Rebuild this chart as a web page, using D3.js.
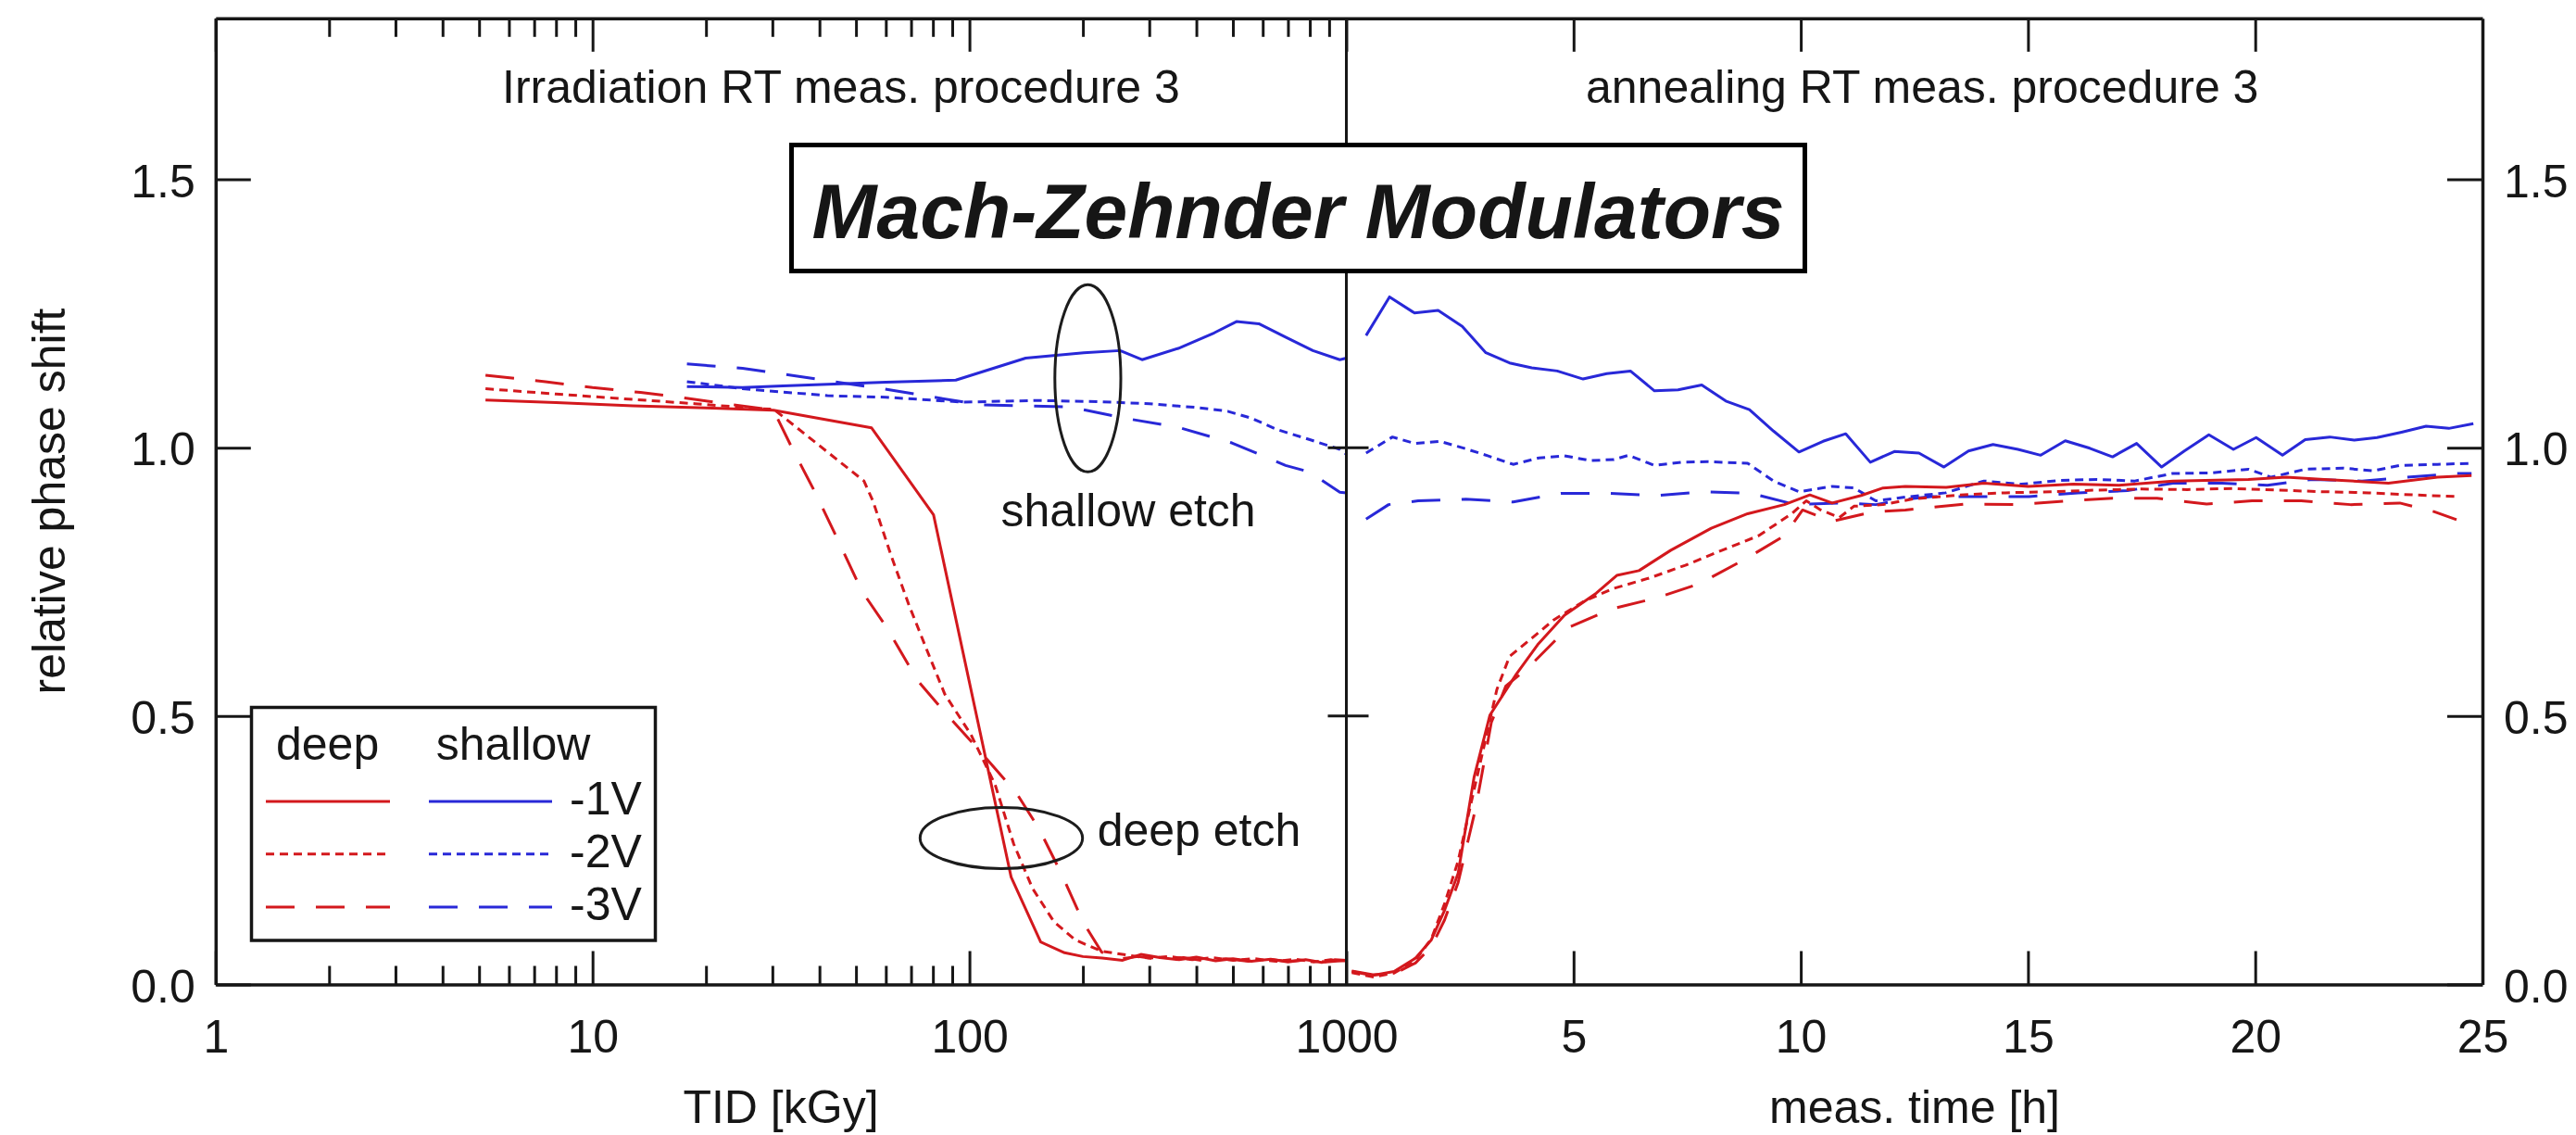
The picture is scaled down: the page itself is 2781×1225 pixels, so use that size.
<!DOCTYPE html>
<html><head><meta charset="utf-8">
<script src="https://cdn.jsdelivr.net/npm/d3@7"></script>
<style>
html,body{margin:0;padding:0;background:#fff;}
svg{display:block;}
text{font-family:'Liberation Sans',Arial,Helvetica,sans-serif;fill:#161616;}
</style></head><body>
<svg id="chart" width="2781" height="1225"></svg>
<script>
// ---------- DATA ----------
// Irradiation panel: [TID kGy, relative phase shift]
const irrDeep1V = [[5.2,1.089],[8,1.084],[12.8,1.078],[20,1.074],[30.2,1.070],[55,1.037],[80.3,0.875],[129,0.200],[154.5,0.079],[178.8,0.059],[200,0.052],[225,0.049],[255,0.045],[285,0.056],[320,0.050],[360,0.046],[400,0.051],[450,0.044],[500,0.048],[560,0.043],[630,0.047],[700,0.042],[780,0.046],[860,0.041],[930,0.046],[1000,0.045]];
const irrDeep2V = [[5.2,1.110],[8,1.100],[12.8,1.090],[18.7,1.082],[27.3,1.073],[30.2,1.072],[52.5,0.938],[55.5,0.900],[61.9,0.800],[69,0.708],[77,0.624],[86,0.541],[101,0.465],[117,0.372],[131,0.262],[147,0.179],[167.5,0.117],[190.8,0.083],[224,0.062],[260,0.055],[300,0.049],[340,0.052],[390,0.046],[440,0.050],[500,0.045],[570,0.048],[650,0.043],[730,0.047],[820,0.042],[910,0.046],[1000,0.044]];
const irrDeep3V = [[5.2,1.135],[7.5,1.123],[10,1.112],[13.4,1.103],[17.9,1.092],[23.7,1.080],[30.2,1.070],[33.8,1.000],[39,0.916],[44.1,0.838],[51.8,0.733],[60.2,0.666],[72.9,0.566],[86,0.507],[105,0.440],[133.4,0.356],[153,0.290],[175.5,0.206],[201,0.114],[224.4,0.060],[247,0.047],[280,0.052],[320,0.047],[370,0.050],[420,0.044],[480,0.048],[550,0.043],[620,0.047],[700,0.043],[790,0.046],[880,0.042],[1000,0.045]];
const irrShallow1V = [[17.8,1.114],[25,1.112],[32,1.115],[42.1,1.118],[60,1.122],[92,1.126],[141,1.167],[201,1.177],[251,1.181],[287,1.164],[358,1.185],[446,1.214],[511,1.235],[586,1.231],[690,1.206],[815,1.181],[961,1.164],[1000,1.167]];
const irrShallow2V = [[17.8,1.123],[25,1.110],[42,1.097],[60,1.094],[96,1.085],[150,1.088],[218,1.086],[300,1.082],[400,1.075],[484,1.068],[560,1.055],[654,1.034],[800,1.015],[961,0.997],[1000,0.988]];
const irrShallow3V = [[17.8,1.156],[25,1.148],[33.6,1.135],[58.6,1.110],[107,1.080],[185,1.076],[258,1.055],[358,1.038],[497,1.009],[690,0.967],[797,0.955],[961,0.917],[1000,0.916]];

// Annealing panel: [meas. time h, relative phase shift]
const annDeep1V = [[0.12,0.024],[0.58,0.017],[1.05,0.024],[1.52,0.049],[1.87,0.083],[2.16,0.138],[2.46,0.207],[2.81,0.386],[3.16,0.502],[3.74,0.578],[4.21,0.633],[4.80,0.688],[5.50,0.729],[5.95,0.762],[6.44,0.771],[7.14,0.809],[8.03,0.850],[8.83,0.877],[9.64,0.894],[10.20,0.912],[10.69,0.897],[11.33,0.911],[11.81,0.925],[12.3,0.928],[13.2,0.926],[14.03,0.934],[15,0.928],[16,0.932],[17,0.930],[18.19,0.938],[19.85,0.941],[20.68,0.945],[21.52,0.941],[22.93,0.934],[24.01,0.945],[24.76,0.948]];
const annDeep2V = [[0.12,0.022],[0.58,0.014],[1.05,0.021],[1.52,0.045],[1.87,0.085],[2.16,0.150],[2.46,0.230],[2.75,0.340],[3.11,0.474],[3.31,0.549],[3.59,0.611],[4.08,0.645],[4.56,0.679],[5.21,0.713],[5.85,0.737],[6.66,0.757],[7.46,0.781],[8.27,0.809],[9.07,0.836],[9.80,0.877],[10.12,0.901],[10.44,0.884],[10.85,0.870],[11.17,0.891],[11.81,0.894],[12.5,0.905],[13.5,0.912],[14.5,0.916],[15.5,0.918],[16.5,0.921],[17.5,0.923],[18.5,0.922],[19.5,0.924],[20.5,0.921],[21.5,0.918],[22.5,0.916],[23.5,0.912],[24.5,0.909]];
const annDeep3V = [[0.12,0.025],[0.58,0.018],[1.05,0.020],[1.52,0.040],[1.87,0.070],[2.16,0.120],[2.46,0.190],[2.85,0.330],[3.19,0.488],[3.51,0.556],[4.00,0.590],[4.88,0.665],[5.85,0.700],[6.82,0.720],[7.78,0.747],[8.83,0.795],[9.64,0.836],[10.04,0.884],[10.69,0.863],[11.57,0.880],[12.3,0.884],[13.61,0.895],[14.78,0.894],[15.88,0.901],[16.86,0.906],[17.84,0.906],[18.93,0.895],[19.93,0.901],[21.01,0.901],[22.10,0.894],[23.18,0.897],[23.93,0.881],[24.43,0.866]];
const annShallow1V = [[0.434,1.209],[0.95,1.281],[1.50,1.251],[2.02,1.256],[2.55,1.226],[3.07,1.177],[3.59,1.158],[4.08,1.149],[4.64,1.143],[5.21,1.128],[5.73,1.138],[6.25,1.143],[6.78,1.106],[7.30,1.108],[7.82,1.117],[8.35,1.087],[8.87,1.071],[9.40,1.031],[9.96,0.992],[10.49,1.012],[10.99,1.026],[11.53,0.973],[12.06,0.993],[12.6,0.990],[13.15,0.964],[13.69,0.994],[14.23,1.006],[14.78,0.997],[15.28,0.986],[15.82,1.013],[16.36,0.999],[16.86,0.983],[17.39,1.008],[17.94,0.964],[18.44,0.994],[18.98,1.024],[19.52,0.997],[20.02,1.019],[20.60,0.986],[21.10,1.015],[21.64,1.020],[22.18,1.014],[22.68,1.019],[23.22,1.029],[23.76,1.040],[24.26,1.036],[24.80,1.045]];
const annShallow2V = [[0.434,0.990],[1.015,1.020],[1.50,1.008],[2.06,1.012],[2.63,0.998],[3.11,0.985],[3.67,0.969],[4.24,0.981],[4.80,0.985],[5.37,0.976],[5.89,0.978],[6.21,0.986],[6.78,0.967],[7.38,0.973],[7.94,0.974],[8.83,0.971],[9.40,0.938],[9.96,0.918],[10.69,0.928],[11.17,0.925],[11.65,0.901],[12.30,0.908],[13.19,0.916],[14.03,0.938],[14.86,0.932],[15.69,0.939],[16.52,0.941],[17.35,0.938],[18.18,0.952],[19.02,0.953],[19.85,0.960],[20.35,0.945],[21.10,0.960],[21.93,0.962],[22.60,0.957],[23.18,0.967],[24.01,0.969],[24.76,0.971]];
const annShallow3V = [[0.434,0.867],[0.93,0.894],[1.58,0.901],[2.63,0.904],[3.67,0.899],[4.72,0.915],[5.77,0.915],[6.82,0.911],[7.87,0.918],[8.91,0.915],[9.88,0.894],[10.85,0.897],[11.65,0.894],[12.30,0.904],[12.86,0.909],[14.03,0.909],[15.02,0.909],[16.1,0.916],[17.19,0.920],[18.19,0.934],[19.27,0.934],[20.27,0.930],[21.26,0.941],[22.35,0.938],[23.34,0.945],[24.43,0.952],[24.76,0.952]];

// Tick labels / categories
const yTickValues = [0, 0.5, 1.0, 1.5];
const tidMajorTicks = [1, 10, 100, 1000];
const timeTickValues = [5, 10, 15, 20, 25];
const voltageLabels = ["-1V", "-2V", "-3V"];
const etchLabels = ["deep", "shallow"];

// ---------- STYLE ----------
const RED = "#d3181d", BLUE = "#2828d8", INK = "#161616";
const DASHES = [null, "9,6", "31,23"];
const FONT = "'Liberation Sans',Arial,Helvetica,sans-serif";

const svg = d3.select("#chart");
const yPos = d3.scaleLinear().domain([0, 1.8]).range([1062.5, 19.8]);
const xTid = d3.scaleLog().domain([1, 1000]).range([232.8, 1453.5]);
const xTime = d3.scaleLinear().domain([0, 25]).range([1453.5, 2680]);

const isMajor = d => Math.abs(Math.log10(d) - Math.round(Math.log10(d))) < 1e-6;

// ---------- DATA LINES ----------
const lineTid = d3.line().x(d => xTid(d[0])).y(d => yPos(d[1]));
const lineTime = d3.line().x(d => xTime(d[0])).y(d => yPos(d[1]));

const irrSeries = [
  {d: irrShallow1V, c: BLUE, k: 0}, {d: irrShallow2V, c: BLUE, k: 1}, {d: irrShallow3V, c: BLUE, k: 2},
  {d: irrDeep1V, c: RED, k: 0}, {d: irrDeep2V, c: RED, k: 1}, {d: irrDeep3V, c: RED, k: 2}
];
const annSeries = [
  {d: annShallow1V, c: BLUE, k: 0}, {d: annShallow2V, c: BLUE, k: 1}, {d: annShallow3V, c: BLUE, k: 2},
  {d: annDeep1V, c: RED, k: 0}, {d: annDeep2V, c: RED, k: 1}, {d: annDeep3V, c: RED, k: 2}
];

const gData = svg.append("g");
gData.selectAll("path.irr").data(irrSeries).join("path").attr("class", "irr")
  .attr("d", s => lineTid(s.d)).attr("fill", "none").attr("stroke", s => s.c)
  .attr("stroke-width", 3).attr("stroke-dasharray", s => DASHES[s.k]).attr("stroke-linejoin", "round");
gData.selectAll("path.ann").data(annSeries).join("path").attr("class", "ann")
  .attr("d", s => lineTime(s.d)).attr("fill", "none").attr("stroke", s => s.c)
  .attr("stroke-width", 3).attr("stroke-dasharray", s => DASHES[s.k]).attr("stroke-linejoin", "round");

// ---------- AXES ----------
function styleAxis(g) {
  g.attr("font-size", 50).attr("font-family", FONT).style("color", INK);
  g.selectAll(".domain").attr("stroke-width", 3.5);
  g.selectAll(".tick line").attr("stroke-width", 3);
  g.selectAll(".tick text").attr("fill", INK);
}

// left panel bottom (log)
const gBL = svg.append("g").attr("transform", `translate(0,${yPos(0)})`)
  .call(d3.axisBottom(xTid).tickValues(xTid.ticks()).tickSizeInner(-20).tickSizeOuter(0).tickPadding(38)
    .tickFormat(d => isMajor(d) ? d3.format("d")(d) : ""));
gBL.selectAll(".tick line").attr("y2", d => isMajor(d) ? -36 : -20);
styleAxis(gBL);
// left panel top (log)
const gTL = svg.append("g").attr("transform", `translate(0,${yPos(1.8)})`)
  .call(d3.axisTop(xTid).tickValues(xTid.ticks()).tickSizeInner(-20).tickSizeOuter(0).tickFormat(""));
gTL.selectAll(".tick line").attr("y2", d => isMajor(d) ? 36 : 20);
styleAxis(gTL);
// right panel bottom
const gBR = svg.append("g").attr("transform", `translate(0,${yPos(0)})`)
  .call(d3.axisBottom(xTime).tickValues(timeTickValues).tickSizeInner(-36).tickSizeOuter(0).tickPadding(38)
    .tickFormat(d3.format("d")));
styleAxis(gBR);
// right panel top
const gTR = svg.append("g").attr("transform", `translate(0,${yPos(1.8)})`)
  .call(d3.axisTop(xTime).tickValues(timeTickValues.slice(0, 4)).tickSizeInner(-36).tickSizeOuter(0).tickFormat(""));
styleAxis(gTR);
// left y
const gYL = svg.append("g").attr("transform", `translate(${xTid.range()[0]},0)`)
  .call(d3.axisLeft(yPos).tickValues(yTickValues).tickSizeInner(-38).tickSizeOuter(0).tickPadding(22)
    .tickFormat(d3.format(".1f")));
gYL.selectAll(".tick text").attr("dy", "0.37em");
styleAxis(gYL);
// right y
const gYR = svg.append("g").attr("transform", `translate(${xTime.range()[1]},0)`)
  .call(d3.axisRight(yPos).tickValues(yTickValues).tickSizeInner(-38).tickSizeOuter(0).tickPadding(23)
    .tickFormat(d3.format(".1f")));
gYR.selectAll(".tick text").attr("dy", "0.37em");
styleAxis(gYR);

// middle divider
const xMid = xTime.range()[0];
svg.append("line").attr("x1", xMid).attr("x2", xMid).attr("y1", yPos(0)).attr("y2", yPos(1.8))
  .attr("stroke", INK).attr("stroke-width", 3);
svg.selectAll("line.midtick").data(yTickValues.slice(1)).join("line").attr("class", "midtick")
  .attr("x1", xMid - 20).attr("x2", xMid + 24).attr("y1", d => yPos(d)).attr("y2", d => yPos(d))
  .attr("stroke", INK).attr("stroke-width", 3);

// ---------- TEXT ----------
const T = (x, y, s, opts = {}) => svg.append("text").attr("x", x).attr("y", y).text(s)
  .attr("font-size", opts.size || 50).attr("text-anchor", opts.anchor || "start")
  .attr("font-style", opts.style || null).attr("font-weight", opts.weight || null);

svg.append("text").attr("transform", "translate(70,541) rotate(-90)").attr("text-anchor", "middle")
  .attr("font-size", 50).text("relative phase shift");
T(843, 1211.5, "TID [kGy]", {anchor: "middle"});
T(2067, 1211.5, "meas. time [h]", {anchor: "middle"});
T(542, 111, "Irradiation RT meas. procedure 3");
T(1712, 111, "annealing RT meas. procedure 3");

// annotations
svg.append("ellipse").attr("cx", 1174.4).attr("cy", 408.3).attr("rx", 35.6).attr("ry", 101)
  .attr("fill", "none").attr("stroke", "#1c1c1c").attr("stroke-width", 3);
svg.append("ellipse").attr("cx", 1081).attr("cy", 904.4).attr("rx", 87.7).attr("ry", 33)
  .attr("fill", "none").attr("stroke", "#1c1c1c").attr("stroke-width", 3);
T(1080.5, 567.5, "shallow etch");
T(1184.7, 913, "deep etch");

// title box
svg.append("rect").attr("x", 854.5).attr("y", 156.5).attr("width", 1094).attr("height", 136)
  .attr("fill", "#fff").attr("stroke", "#000").attr("stroke-width", 5);
T(1401.5, 257, "Mach-Zehnder Modulators", {anchor: "middle", size: 84, style: "italic", weight: "bold"}).attr("fill", "#000");

// legend
svg.append("rect").attr("x", 271.5).attr("y", 763.5).attr("width", 436).attr("height", 251.5)
  .attr("fill", "#fff").attr("stroke", INK).attr("stroke-width", 3.5);
T(298, 820, etchLabels[0]);
T(470.7, 820, etchLabels[1]);
const legRows = [865, 921.7, 979];
const gLeg = svg.append("g");
gLeg.selectAll("line.lr").data(voltageLabels).join("line").attr("class", "lr")
  .attr("x1", 287).attr("x2", 421).attr("y1", (d, i) => legRows[i]).attr("y2", (d, i) => legRows[i])
  .attr("stroke", RED).attr("stroke-width", 3).attr("stroke-dasharray", (d, i) => DASHES[i]);
gLeg.selectAll("line.lb").data(voltageLabels).join("line").attr("class", "lb")
  .attr("x1", 463).attr("x2", 596).attr("y1", (d, i) => legRows[i]).attr("y2", (d, i) => legRows[i])
  .attr("stroke", BLUE).attr("stroke-width", 3).attr("stroke-dasharray", (d, i) => DASHES[i]);
gLeg.selectAll("text").data(voltageLabels).join("text")
  .attr("x", 615).attr("y", (d, i) => legRows[i] + 14).attr("font-size", 50).text(d => d);
</script>
</body></html>
